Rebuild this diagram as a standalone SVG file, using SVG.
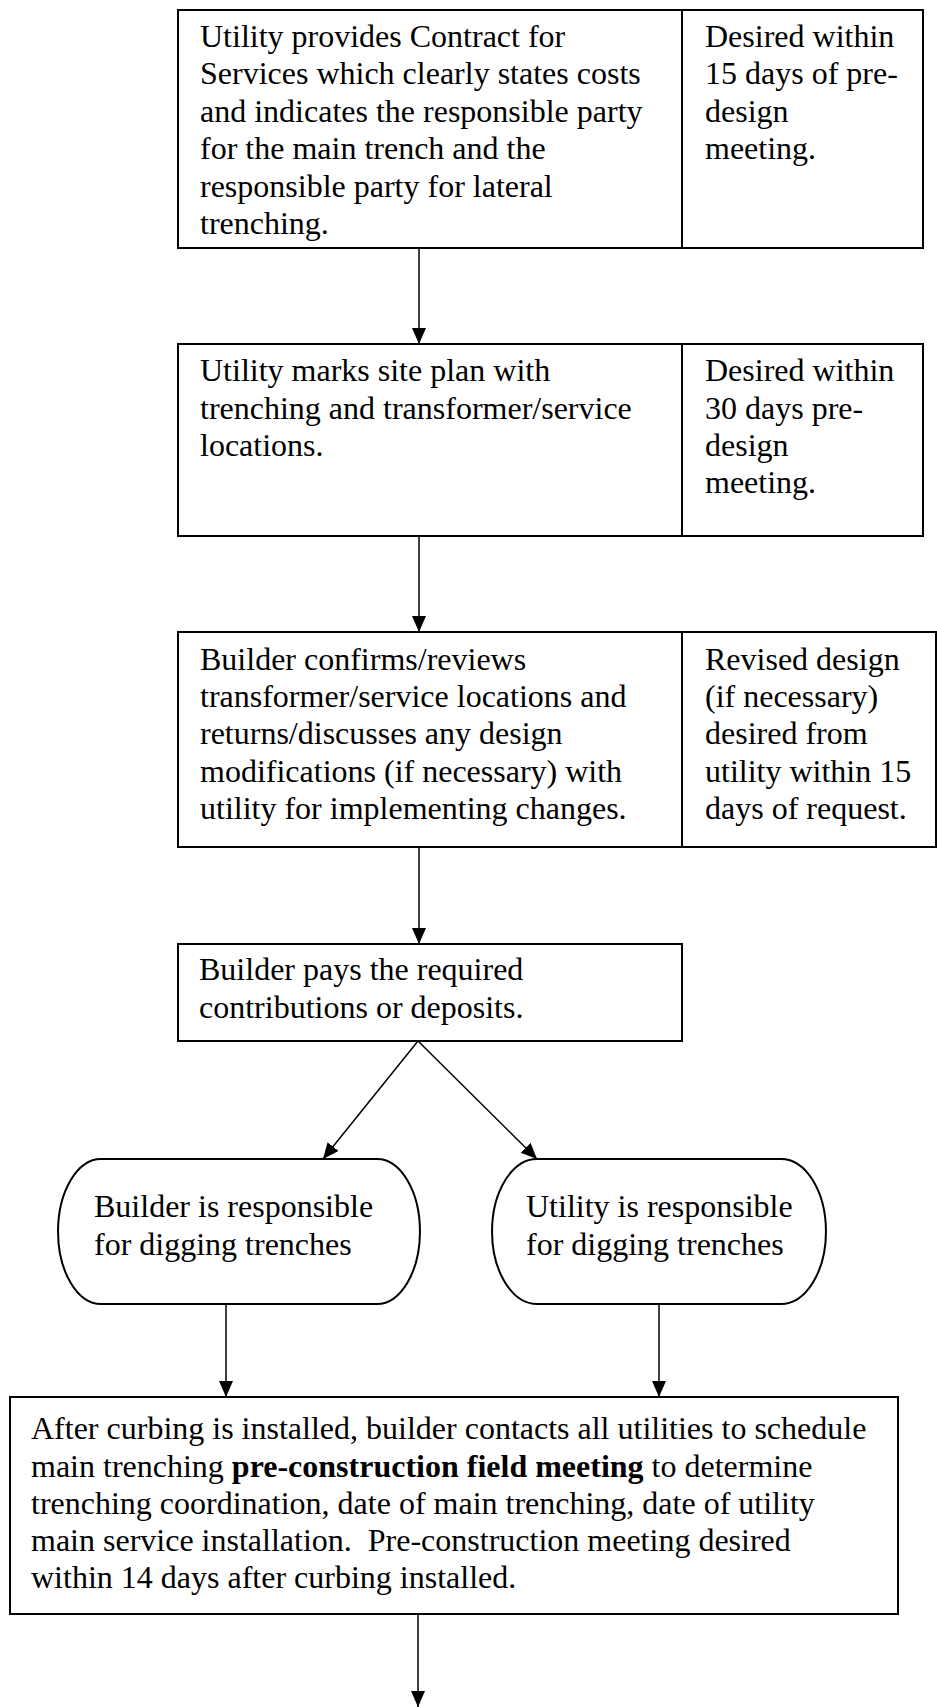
<svg xmlns="http://www.w3.org/2000/svg" width="937" height="1707" viewBox="0 0 937 1707">
<style>
.box{fill:#fff;stroke:#000;stroke-width:2}
.div{stroke:#000;stroke-width:2}
.t{font-family:"Liberation Serif","Times New Roman",serif;font-size:32px;fill:#000;white-space:pre}
.b{font-weight:bold}
.c{stroke:#000;stroke-width:1.5;fill:none;marker-end:url(#ah)}
</style>
<defs>
<marker id="ah" markerUnits="userSpaceOnUse" markerWidth="16" markerHeight="16" refX="16" refY="7" orient="auto">
<path d="M0,0 L16,7 L0,14 Z" fill="#000"/>
</marker>
</defs>
<rect width="937" height="1707" fill="#fff"/>
<g id="connectors">
<line class="c" x1="419" y1="248" x2="419" y2="344"/>
<line class="c" x1="419" y1="536" x2="419" y2="632"/>
<line class="c" x1="419" y1="847" x2="419" y2="944"/>
<line class="c" x1="418" y1="1041" x2="323" y2="1159"/>
<line class="c" x1="418" y1="1041" x2="537" y2="1159"/>
<line class="c" x1="226" y1="1304" x2="226" y2="1397"/>
<line class="c" x1="659" y1="1304" x2="659" y2="1397"/>
<line class="c" x1="418" y1="1614" x2="418" y2="1707"/>
</g>
<g id="node1">
<rect class="box" x="178" y="10" width="745" height="238"/>
<line class="div" x1="682" y1="10" x2="682" y2="248"/>
<text class="t" x="200" y="47">Utility provides Contract for</text>
<text class="t" x="200" y="84">Services which clearly states costs</text>
<text class="t" x="200" y="122">and indicates the responsible party</text>
<text class="t" x="200" y="159">for the main trench and the</text>
<text class="t" x="200" y="197">responsible party for lateral</text>
<text class="t" x="200" y="234">trenching.</text>
<text class="t" x="705" y="47">Desired within</text>
<text class="t" x="705" y="84">15 days of pre-</text>
<text class="t" x="705" y="122">design</text>
<text class="t" x="705" y="159">meeting.</text>
</g>
<g id="node2">
<rect class="box" x="178" y="344" width="745" height="192"/>
<line class="div" x1="682" y1="344" x2="682" y2="536"/>
<text class="t" x="200" y="381">Utility marks site plan with</text>
<text class="t" x="200" y="419">trenching and transformer/service</text>
<text class="t" x="200" y="456">locations.</text>
<text class="t" x="705" y="381">Desired within</text>
<text class="t" x="705" y="419">30 days pre-</text>
<text class="t" x="705" y="456">design</text>
<text class="t" x="705" y="493">meeting.</text>
</g>
<g id="node3">
<rect class="box" x="178" y="632" width="758" height="215"/>
<line class="div" x1="682" y1="632" x2="682" y2="847"/>
<text class="t" x="200" y="670">Builder confirms/reviews</text>
<text class="t" x="200" y="707">transformer/service locations and</text>
<text class="t" x="200" y="744">returns/discusses any design</text>
<text class="t" x="200" y="782">modifications (if necessary) with</text>
<text class="t" x="200" y="819">utility for implementing changes.</text>
<text class="t" x="705" y="670">Revised design</text>
<text class="t" x="705" y="707">(if necessary)</text>
<text class="t" x="705" y="744">desired from</text>
<text class="t" x="705" y="782">utility within 15</text>
<text class="t" x="705" y="819">days of request.</text>
</g>
<g id="node4">
<rect class="box" x="178" y="944" width="504" height="97"/>
<text class="t" x="199" y="980">Builder pays the required</text>
<text class="t" x="199" y="1018">contributions or deposits.</text>
</g>
<g id="node5">
<path class="box" d="M101,1159 H377 A43,72.5 0 0 1 377,1304 H101 A43,72.5 0 0 1 101,1159 Z"/>
<text class="t" x="94" y="1217">Builder is responsible</text>
<text class="t" x="94" y="1255">for digging trenches</text>
</g>
<g id="node6">
<path class="box" d="M537,1159 H781 A45,72.5 0 0 1 781,1304 H537 A45,72.5 0 0 1 537,1159 Z"/>
<text class="t" x="526" y="1217">Utility is responsible</text>
<text class="t" x="526" y="1255">for digging trenches</text>
</g>
<g id="node7">
<rect class="box" x="10" y="1397" width="888" height="217"/>
<text class="t" x="31" y="1439">After curbing is installed, builder contacts all utilities to schedule</text>
<text class="t" x="31" y="1477">main trenching <tspan class="b">pre-construction field meeting</tspan> to determine</text>
<text class="t" x="31" y="1514">trenching coordination, date of main trenching, date of utility</text>
<text class="t" x="31" y="1551">main service installation.  Pre-construction meeting desired</text>
<text class="t" x="31" y="1588">within 14 days after curbing installed.</text>
</g>
</svg>
